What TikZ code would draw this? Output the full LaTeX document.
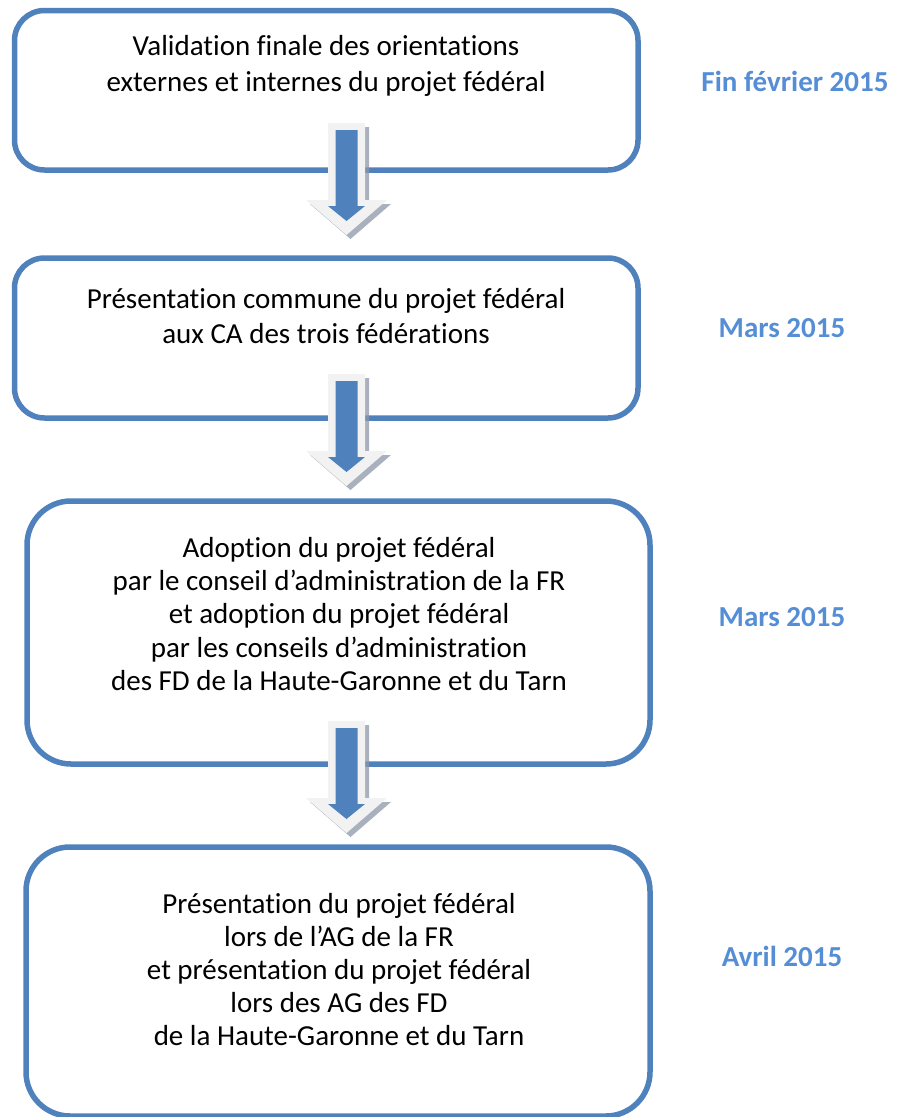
\documentclass[tikz,border=0pt]{standalone}
\usepackage{fontspec}
\setmainfont{Carlito}[Ligatures={NoCommon,NoContextual}]
\definecolor{boxblue}{HTML}{4F81BD}
\definecolor{datecol}{HTML}{558ED5}
\definecolor{arrowedge}{HTML}{F2F2F2}
\definecolor{shadowcol}{HTML}{8C97A8}
\begin{document}
\begin{tikzpicture}[x=1pt,y=-1pt,
  stagebox/.style={draw=boxblue,line width=5.5pt},
  stagetext/.style={align=center,font=\fontsize{29}{36}\selectfont,text=black,inner sep=0pt},
  datetext/.style={font=\fontsize{29}{34}\selectfont\bfseries,text=datecol,inner sep=0pt},
  flowarrow/.pic={
    \fill[shadowcol,opacity=0.75] (-18.5+4,0+4) -- (18.5+4,0+4) -- (18.5+4,77+4) -- (40.5+4,77+4) -- (0+4,112+4) -- (-40.5+4,77+4) -- (-18.5+4,77+4) -- cycle;
    \fill[arrowedge] (-18.5,0) -- (18.5,0) -- (18.5,77) -- (40.5,77) -- (0,112) -- (-40.5,77) -- (-18.5,77) -- cycle;
    \fill[boxblue] (-11,7) -- (11,7) -- (11,83) -- (18.5,83) -- (0,98) -- (-18.5,83) -- (-11,83) -- cycle;
  }]
\useasboundingbox (0,0) rectangle (897,1117);
% boxes
\draw[stagebox,rounded corners=30pt] (14.5,10.5) rectangle (638,170);
\draw[stagebox,rounded corners=30pt] (14.5,258) rectangle (638,418);
\draw[stagebox,rounded corners=44pt] (27,501) rectangle (650,764);
\draw[stagebox,rounded corners=44pt] (26,847) rectangle (650,1116);
% arrows
\pic at (346.5,123) {flowarrow};
\pic at (346.5,374) {flowarrow};
\pic at (346.5,721) {flowarrow};
% texts
\node[stagetext] (t1) at (326,66) {Validation finale des orientations\\externes et internes du projet fédéral};
\node[stagetext,font=\fontsize{29}{35}\selectfont] (t2) at (326,316) {Présentation commune du projet fédéral\\aux CA des trois fédérations};
\node[stagetext,font=\fontsize{29}{33.3}\selectfont] (t3) at (339,614) {Adoption du projet fédéral\\par le conseil d’administration de la FR\\et adoption du projet fédéral\\par les conseils d’administration\\des FD de la Haute-Garonne et du Tarn};
\node[stagetext,font=\fontsize{29}{33}\selectfont] (t4) at (339,970) {Présentation du projet fédéral\\lors de l’AG de la FR\\et présentation du projet fédéral\\lors des AG des FD\\de la Haute-Garonne et du Tarn};
% dates
\node[datetext] (d1) at (795,81) {Fin février 2015};
\node[datetext] (d2) at (782,328) {Mars 2015};
\node[datetext] (d3) at (782,617) {Mars 2015};
\node[datetext] (d4) at (782,956) {Avril 2015};
\end{tikzpicture}
\end{document}
